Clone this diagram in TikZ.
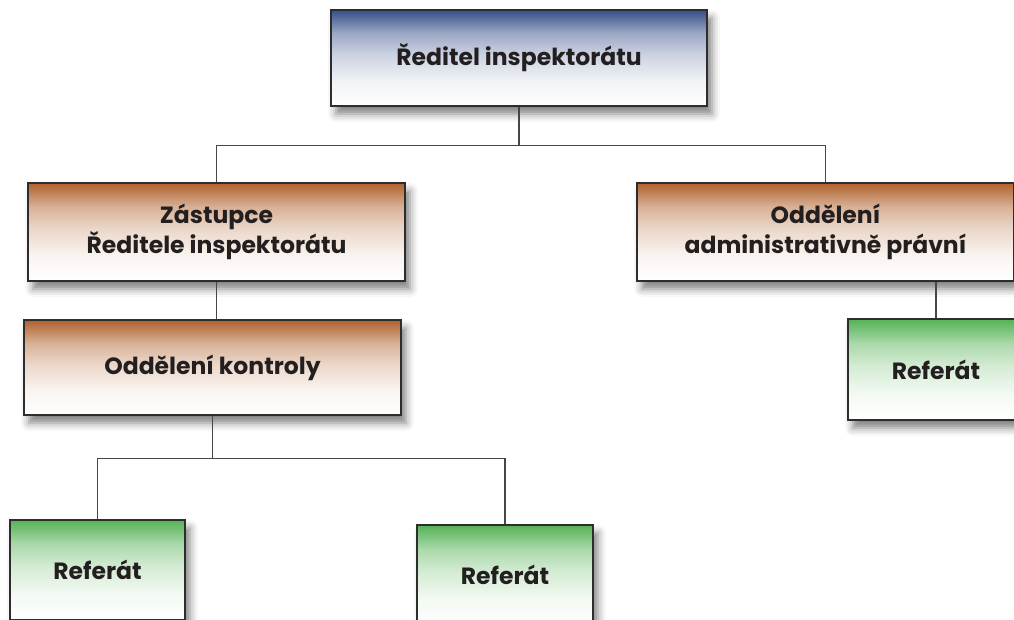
\documentclass[tikz,border=0pt]{standalone}
\usepackage{fontspec}
\setmainfont{Poppins}
\usetikzlibrary{shadows.blur}
\definecolor{blueT}{RGB}{55,80,138}
\definecolor{orangeT}{RGB}{176,98,45}
\definecolor{greenT}{RGB}{86,178,86}
\definecolor{edgec}{RGB}{45,45,45}
\definecolor{connc}{RGB}{70,70,70}
\definecolor{txtc}{RGB}{35,31,32}
\newcommand{\mkshade}[2]{%
  \colorlet{#1a}{#2!7!white}\colorlet{#1b}{#2!26!white}\colorlet{#1c}{#2!50!white}\colorlet{#1d}{#2!80!white}%
  \pgfdeclareverticalshading{#1}{100bp}{color(0bp)=(white); color(25bp)=(white); color(38bp)=(#1a); color(52bp)=(#1b); color(63bp)=(#1c); color(70bp)=(#1d); color(75bp)=(#2); color(100bp)=(#2)}}
\mkshade{blueshade}{blueT}
\mkshade{orangeshade}{orangeT}
\mkshade{greenshade}{greenT}
\tikzset{
  box/.style={draw=edgec, line width=1.4pt, align=center, inner sep=0pt,
    font=\bfseries\fontsize{23.5}{30}\selectfont, text=txtc,
    blur shadow={shadow xshift=5pt, shadow yshift=-8pt, shadow blur radius=8pt, shadow opacity=50}},
  bluebox/.style={box, shading=blueshade},
  orangebox/.style={box, shading=orangeshade},
  greenbox/.style={box, shading=greenshade},
  conn/.style={draw=connc, line width=1.3pt}
}
\begin{document}
\begin{tikzpicture}[x=1pt,y=-1pt]
\useasboundingbox (0,0) rectangle (1014,620);
\clip (0,0) rectangle (1014,620);
\node[bluebox, minimum width=376pt, minimum height=96pt] (top) at (519,58) {Ředitel inspektorátu};
\node[orangebox, minimum width=377pt, minimum height=98pt] (zast) at (216.5,232) {Zástupce\\Ředitele inspektorátu};
\node[orangebox, minimum width=377pt, minimum height=98pt] (adm) at (825.5,232) {Oddělení\\administrativně právní};
\node[orangebox, minimum width=377pt, minimum height=95pt] (kontr) at (212.5,367.5) {Oddělení kontroly};
\node[greenbox, minimum width=176pt, minimum height=101pt] (refR) at (936,369.5) {Referát};
\node[greenbox, minimum width=175pt, minimum height=100pt] (refL) at (97.5,570) {Referát};
\node[greenbox, minimum width=176pt, minimum height=100pt] (refM) at (505,575) {Referát};
\draw[conn] (top.south) -- ++(0,39) coordinate (j1);
\draw[conn] (j1) -| (zast.north);
\draw[conn] (j1) -| (adm.north);
\draw[conn] (zast.south) -- (zast.south |- kontr.north);
\draw[conn] (kontr.south) -- ++(0,43) coordinate (j2);
\draw[conn] (j2) -| (refL.north);
\draw[conn] (j2) -| (refM.north);
\draw[conn] (refR.north |- adm.south) -- (refR.north);
\end{tikzpicture}
\end{document}
